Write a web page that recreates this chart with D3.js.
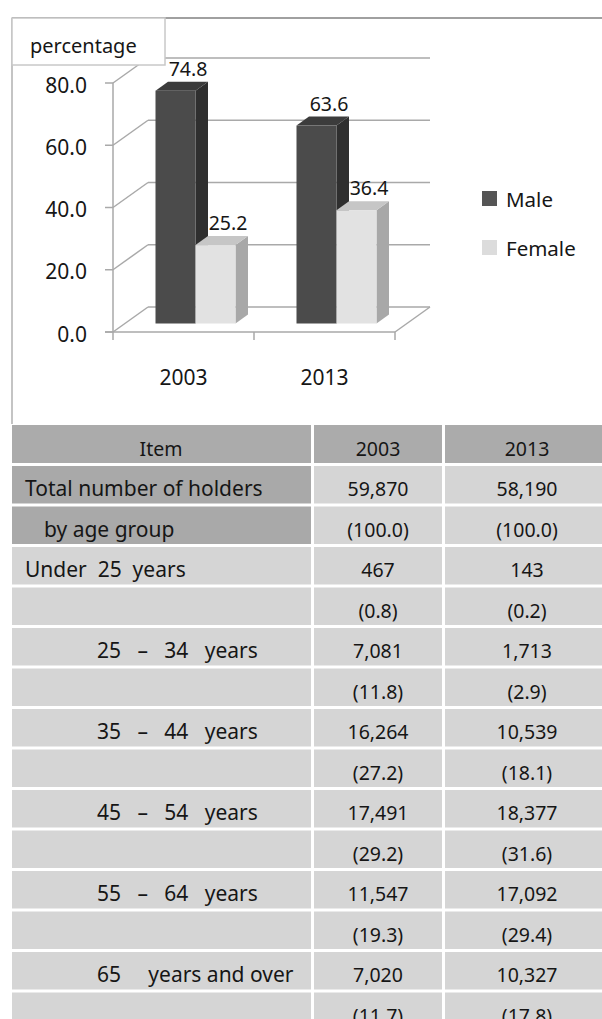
<!DOCTYPE html>
<html>
<head>
<meta charset="utf-8">
<script src="https://cdn.jsdelivr.net/npm/d3@7"></script>
<style>
  body { margin: 0; background: #fff; }
  svg text { font-family: "Noto Sans", sans-serif; fill: #161616; }
</style>
</head>
<body>
<div id="chart"></div>
<script>
// chart data
var years = ["2003", "2013"];
var series = ["Male", "Female"];
var male = [74.8, 63.6];
var female = [25.2, 36.4];
var yTicks = [0, 20, 40, 60, 80];

// table data
var tableHead = ["Item", "2003", "2013"];
var rowLabels = ["Total number of holders", "by age group", "Under  25  years", "",
  "25   \u2013   34   years", "", "35   \u2013   44   years", "", "45   \u2013   54   years", "",
  "55   \u2013   64   years", "", "65     years and over", ""];
var col2003 = ["59,870", "(100.0)", "467", "(0.8)", "7,081", "(11.8)", "16,264", "(27.2)",
  "17,491", "(29.2)", "11,547", "(19.3)", "7,020", "(11.7)"];
var col2013 = ["58,190", "(100.0)", "143", "(0.2)", "1,713", "(2.9)", "10,539", "(18.1)",
  "18,377", "(31.6)", "17,092", "(29.4)", "10,327", "(17.8)"];

var W = 602, H = 1019;
var svg = d3.select("#chart").append("svg")
  .attr("width", W).attr("height", H);

var grid = "#a9a9a9";

// frame
svg.append("line").attr("x1", 12).attr("x2", W).attr("y1", 18).attr("y2", 18)
  .attr("stroke", "#a0a0a0").attr("stroke-width", 2);
svg.append("line").attr("x1", 12).attr("x2", 12).attr("y1", 18).attr("y2", 424)
  .attr("stroke", "#b0b0b0").attr("stroke-width", 1.5);

// 3d geometry
var DX = 35, DY = -25;          // depth of the plot box
var FDX = 12, FDY = -8.5;       // bar front inside the box
var BDX = 12.5, BDY = -9;       // bar depth

var y = d3.scaleLinear().domain([0, 80]).range([332, 83]);
var x = d3.scaleBand().domain(years).range([113, 395]);
var xs = d3.scaleBand().domain(series).range([30.5, x.bandwidth() - 30.5]);

var color = {
  Male:   { front: "#4b4b4b", side: "#2f2f2f", top: "#3c3c3c" },
  Female: { front: "#e2e2e2", side: "#a8a8a8", top: "#c6c6c6" }
};

var g = svg.append("g");

// back wall gridlines with diagonals
yTicks.forEach(function(t) {
  var yy = y(t);
  g.append("line").attr("x1", 113 + DX).attr("x2", 395 + DX)
    .attr("y1", yy + DY).attr("y2", yy + DY)
    .attr("stroke", grid).attr("stroke-width", 1.5);
  g.append("line").attr("x1", 113).attr("x2", 113 + DX)
    .attr("y1", yy).attr("y2", yy + DY)
    .attr("stroke", grid).attr("stroke-width", 1.5);
});
// floor
g.append("line").attr("x1", 395).attr("x2", 395 + DX)
  .attr("y1", y(0)).attr("y2", y(0) + DY)
  .attr("stroke", grid).attr("stroke-width", 1.5);

// bars
var bars = [];
years.forEach(function(yr, i) {
  bars.push({ year: yr, s: "Male", v: male[i] });
  bars.push({ year: yr, s: "Female", v: female[i] });
});

var bar = g.selectAll("g.bar").data(bars).enter().append("g").attr("class", "bar");

bar.each(function(d) {
  var x0 = x(d.year) + xs(d.s) + FDX;
  var x1 = x0 + xs.bandwidth();
  var yt = y(d.v) + FDY;
  var yb = y(0) + FDY;
  var c = color[d.s];
  var sel = d3.select(this);
  sel.append("polygon")
    .attr("points", [[x1, yt], [x1 + BDX, yt + BDY], [x1 + BDX, yb + BDY], [x1, yb]].join(" "))
    .attr("fill", c.side);
  sel.append("polygon")
    .attr("points", [[x0, yt], [x0 + BDX, yt + BDY], [x1 + BDX, yt + BDY], [x1, yt]].join(" "))
    .attr("fill", c.top);
  sel.append("rect")
    .attr("x", x0).attr("y", yt).attr("width", x1 - x0).attr("height", yb - yt)
    .attr("fill", c.front);
  sel.append("text")
    .attr("x", (x0 + x1) / 2 + BDX)
    .attr("y", yt + BDY - 6)
    .attr("text-anchor", "middle")
    .style("font-size", "19.5px")
    .text(d.v.toFixed(1));
});

// front axes
g.append("line").attr("x1", 113).attr("x2", 113).attr("y1", y(80)).attr("y2", y(0))
  .attr("stroke", grid).attr("stroke-width", 1.5);
g.append("line").attr("x1", 105).attr("x2", 395).attr("y1", y(0)).attr("y2", y(0))
  .attr("stroke", grid).attr("stroke-width", 1.5);
yTicks.forEach(function(t) {
  g.append("line").attr("x1", 105).attr("x2", 113).attr("y1", y(t)).attr("y2", y(t))
    .attr("stroke", grid).attr("stroke-width", 1.5);
  g.append("text").attr("x", 87).attr("y", y(t) + 9.5)
    .attr("text-anchor", "end").style("font-size", "21px")
    .text(t.toFixed(1));
});
[113, 113 + x.bandwidth(), 395].forEach(function(xx) {
  g.append("line").attr("x1", xx).attr("x2", xx).attr("y1", y(0)).attr("y2", y(0) + 8)
    .attr("stroke", grid).attr("stroke-width", 1.5);
});
years.forEach(function(yr) {
  g.append("text").attr("x", x(yr) + x.bandwidth() / 2).attr("y", 385)
    .attr("text-anchor", "middle").style("font-size", "21px").text(yr);
});

// axis title box
svg.append("rect").attr("x", 12).attr("y", 18).attr("width", 153).attr("height", 47)
  .attr("fill", "#fff").attr("stroke", "#c8c8c8").attr("stroke-width", 1.5);
svg.append("text").attr("x", 30).attr("y", 53).style("font-size", "20px").text("percentage");

// legend
var leg = svg.append("g").selectAll("g").data(series).enter().append("g")
  .attr("transform", function(d, i) { return "translate(482," + (191 + i * 49) + ")"; });
leg.append("rect").attr("width", 15).attr("height", 15)
  .attr("fill", function(d) { return d === "Male" ? "#555" : "#dcdcdc"; });
leg.append("text").attr("x", 24).attr("y", 16).style("font-size", "20.5px")
  .text(function(d) { return d; });

// table
var top0 = 425, headH = 38, rowH = 40.5, gap = 3;
var cols = [{ x0: 12, x1: 311, cx: 161 }, { x0: 314, x1: 442, cx: 378 }, { x0: 445, x1: 610, cx: 527 }];

var tbl = svg.append("g");
tableHead.forEach(function(h, j) {
  tbl.append("rect").attr("x", cols[j].x0).attr("y", top0)
    .attr("width", cols[j].x1 - cols[j].x0).attr("height", headH)
    .attr("fill", "#ababab");
  tbl.append("text").attr("x", cols[j].cx).attr("y", top0 + 31)
    .attr("text-anchor", "middle").style("font-size", "19.5px").text(h);
});

var rows = rowLabels.map(function(l, i) { return { label: l, a: col2003[i], b: col2013[i], i: i }; });
var row = tbl.selectAll("g.row").data(rows).enter().append("g").attr("class", "row")
  .attr("transform", function(d) { return "translate(0," + (top0 + headH + gap + d.i * rowH) + ")"; });

row.each(function(d) {
  var sel = d3.select(this);
  cols.forEach(function(c, j) {
    sel.append("rect").attr("x", c.x0).attr("width", c.x1 - c.x0).attr("height", rowH - gap)
      .attr("fill", j === 0 && d.i < 2 ? "#a9a9a9" : "#d5d5d5");
  });
  var indent = d.i === 1 ? 44 : (/^\d/.test(d.label) ? 97 : 25);
  sel.append("text").attr("x", indent).attr("y", 30)
    .style("font-size", "21px").style("white-space", "pre").text(d.label);
  sel.append("text").attr("x", cols[1].cx).attr("y", 30)
    .attr("text-anchor", "middle").style("font-size", "19.5px").text(d.a);
  sel.append("text").attr("x", cols[2].cx).attr("y", 30)
    .attr("text-anchor", "middle").style("font-size", "19.5px").text(d.b);
});
</script>
</body>
</html>
